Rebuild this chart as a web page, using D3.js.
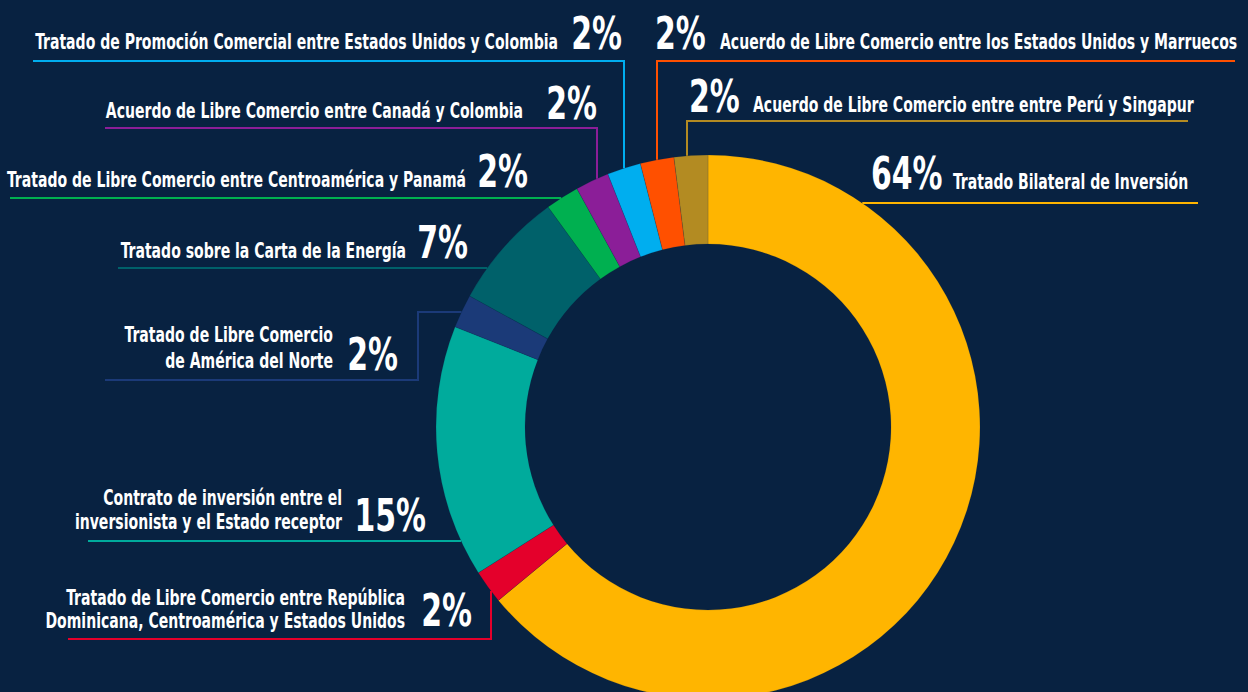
<!DOCTYPE html>
<html>
<head>
<meta charset="utf-8">
<script src="https://cdn.jsdelivr.net/npm/d3@7"></script>
<style>
  html, body { margin: 0; padding: 0; background: #082241; }
  svg { display: block; }
</style>
</head>
<body>
<div id="chart"></div>
<script>
// slices in clockwise order starting at 12 o'clock
var categories = [
  "Tratado Bilateral de Inversión",
  "Tratado de Libre Comercio entre República\nDominicana, Centroamérica y Estados Unidos",
  "Contrato de inversión entre el\ninversionista y el Estado receptor",
  "Tratado de Libre Comercio\nde América del Norte",
  "Tratado sobre la Carta de la Energía",
  "Tratado de Libre Comercio entre Centroamérica y Panamá",
  "Acuerdo de Libre Comercio entre Canadá y Colombia",
  "Tratado de Promoción Comercial entre Estados Unidos y Colombia",
  "Acuerdo de Libre Comercio entre los Estados Unidos y Marruecos",
  "Acuerdo de Libre Comercio entre entre Perú y Singapur"
];
var values = [64, 2, 15, 2, 7, 2, 2, 2, 2, 2];
var colors = ["#ffb500", "#e4002b", "#00ab9c", "#1b3a78", "#00616a",
              "#00b050", "#8b1e98", "#00aeef", "#ff5000", "#b38b22"];

// label placement (same order as categories)
// path: first item is where the leader meets the ring: ["h", y, side] or ["v", x, side]
var labelLayout = [
  { pct: [871, 189, "start"], txt: [953, 189, "start"], path: [["h", 203, 1], [1198, 203]] },
  { pct: [472, 626, "end"], txt: [405, 605, "end"], gap: 23, path: [["v", 491, 1], [491, 639], [68, 639]] },
  { pct: [426, 531, "end"], txt: [342, 505, "end"], gap: 24, path: [["h", 541, -1], [88, 541]] },
  { pct: [398, 370, "end"], txt: [333, 342, "end"], gap: 26, path: [["h", 312, -1], [418, 312], [418, 380], [105, 380]] },
  { pct: [468, 258, "end"], txt: [406, 258, "end"], path: [["h", 268, -1], [118, 268]] },
  { pct: [528, 187, "end"], txt: [466, 187, "end"], path: [["h", 198, -1], [10, 198]] },
  { pct: [597, 119, "end"], txt: [523, 118, "end"], path: [["v", 597, -1], [597, 128], [105, 128]] },
  { pct: [622, 49, "end"], txt: [558, 49, "end"], path: [["v", 624, -1], [624, 61], [33, 61]] },
  { pct: [655, 49, "start"], txt: [720, 49, "start"], path: [["v", 657, -1], [657, 61], [1235, 61]] },
  { pct: [689, 112, "start"], txt: [753, 112, "start"], path: [["v", 687, -1], [687, 121], [1188, 121]] }
];

var width = 1248, height = 692;
var cx = 708, cy = 427;
var outerR = 272, innerR = 183;
var fontFamily = "'DejaVu Sans Condensed', 'Liberation Sans Narrow', sans-serif";
var squeeze = 0.71;     // the original uses a very narrow face
var pctSqueeze = 0.755;

var svg = d3.select("#chart")
  .append("svg")
  .attr("width", width)
  .attr("height", height);

svg.append("rect")
  .attr("width", width)
  .attr("height", height)
  .attr("fill", "#082241");

var data = categories.map(function (c, i) {
  return { name: c, value: values[i], color: colors[i], layout: labelLayout[i] };
});

var pie = d3.pie()
  .sort(null)
  .value(function (d) { return d.value; });

var arc = d3.arc().innerRadius(innerR).outerRadius(outerR);

var g = svg.append("g").attr("transform", "translate(" + cx + "," + cy + ")");

g.selectAll("path")
  .data(pie(data))
  .join("path")
  .attr("d", arc)
  .attr("fill", function (d) { return d.data.color; })
  .attr("stroke", "#082241")
  .attr("stroke-opacity", 0.25)
  .attr("stroke-width", 0.6);

// point where a leader line touches the outer ring
function ringPoint(p) {
  if (p[0] === "h") {
    var dy = p[1] - cy;
    return [cx + p[2] * Math.sqrt(outerR * outerR - dy * dy), p[1]];
  }
  var dx = p[1] - cx;
  return [p[1], cy + p[2] * Math.sqrt(outerR * outerR - dx * dx)];
}

var line = d3.line();

var labels = svg.append("g");

data.forEach(function (d) {
  var L = d.layout;
  var pts = [ringPoint(L.path[0])].concat(L.path.slice(1));
  var gap = L.gap || 24;

  labels.append("path")
    .attr("d", line(pts))
    .attr("fill", "none")
    .attr("stroke", d.color)
    .attr("stroke-width", 2);

  labels.append("text")
    .attr("transform", "translate(" + L.pct[0] + "," + L.pct[1] + ") scale(" + pctSqueeze + ",1)")
    .attr("text-anchor", L.pct[2])
    .attr("font-family", fontFamily)
    .attr("font-weight", "bold")
    .attr("font-size", 44)
    .attr("fill", "#ffffff")
    .text(d.value + "%");

  var t = labels.append("text")
    .attr("transform", "translate(" + L.txt[0] + "," + L.txt[1] + ") scale(" + squeeze + ",1)")
    .attr("text-anchor", L.txt[2])
    .attr("font-family", fontFamily)
    .attr("font-weight", "bold")
    .attr("font-size", 22)
    .attr("fill", "#ffffff");

  d.name.split("\n").forEach(function (s, k) {
    t.append("tspan")
      .attr("x", 0)
      .attr("y", k * gap)
      .text(s);
  });
});
</script>
</body>
</html>
